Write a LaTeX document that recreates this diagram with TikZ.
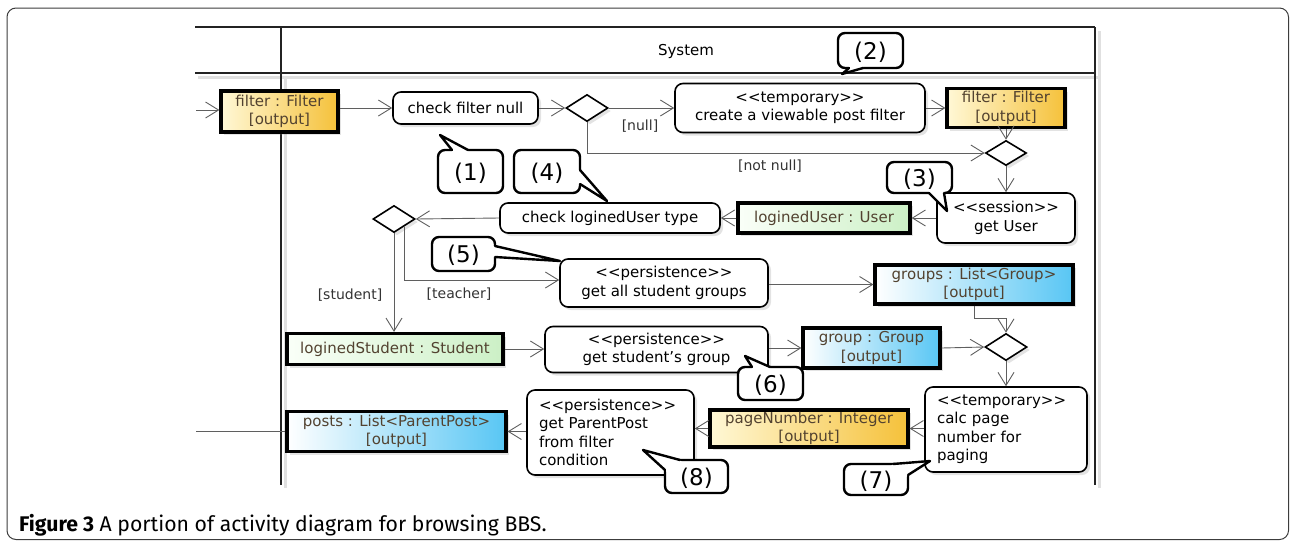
\documentclass[tikz,border=0pt]{standalone}
\usepackage{fontspec}
\setmainfont{DejaVu Sans}
\newfontfamily\capfont{Fira Sans}
\usetikzlibrary{shapes.geometric,arrows.meta,shadows,calc}

\definecolor{ylL}{RGB}{255,248,214}
\definecolor{ylR}{RGB}{245,193,58}
\definecolor{grL}{RGB}{250,255,248}
\definecolor{grR}{RGB}{204,240,198}
\definecolor{blL}{RGB}{255,255,255}
\definecolor{blR}{RGB}{88,198,244}
\definecolor{objtext}{RGB}{82,66,48}
\definecolor{flowgray}{RGB}{95,95,95}
\definecolor{lanegray}{RGB}{35,35,35}
\definecolor{framegray}{RGB}{60,60,60}

\newcommand\dfont{\fontsize{15pt}{18.5pt}\selectfont}
\newcommand\cfont{\fontsize{23pt}{26pt}\selectfont}
\newcommand\outp{\relax[output]}
\newcommand\tail[4]{%
  \fill[white] #1 -- #2 -- #3 -- ($#3+#4$) -- ($#1+#4$) -- cycle;
  \draw[tailline] #1 -- #2 -- #3;}

\begin{document}
\begin{tikzpicture}[x=1pt,y=-1pt,
  shadowed/.style={drop shadow={shadow xshift=3pt,shadow yshift=-3pt,opacity=0.22}},
  action/.style={rectangle, rounded corners=8pt, draw=black, line width=1.6pt,
    fill=white, align=center, font=\dfont, inner sep=0pt, shadowed},
  actionleft/.style={action, align=left, inner xsep=12pt},
  obj/.style={rectangle, draw=black, line width=3.2pt, align=center,
    font=\dfont, text=objtext, inner sep=0pt, shadowed},
  yobj/.style={obj, left color=ylL, right color=ylR},
  gobj/.style={obj, left color=grL, right color=grR},
  bobj/.style={obj, left color=blL, right color=blR},
  dec/.style={diamond, draw=black, line width=1.6pt, fill=white,
    minimum width=42pt, minimum height=27pt, inner sep=0pt, shadowed},
  flow/.style={draw=flowgray, line width=0.9pt,
    -{Straight Barb[length=13pt,width=16pt,line width=0.9pt]}},
  plain/.style={draw=flowgray, line width=0.9pt},
  guard/.style={font=\fontsize{14pt}{16pt}\selectfont, text=black!80},
  lane/.style={draw=lanegray, line width=2.2pt},
  laneshadow/.style={draw=black!12, line width=3pt},
  callout/.style={rectangle, rounded corners=7pt, draw=black, line width=2.4pt,
    fill=white, font=\cfont, inner sep=0pt, text height=19pt, text depth=2pt},
  tailline/.style={draw=black, line width=2.4pt, line join=round, line cap=round}
]
\useasboundingbox (0,0) rectangle (1290,542);

% outer frame
\draw[framegray, line width=1pt, rounded corners=9pt] (7,8) rectangle (1288.5,539.5);

% swimlanes
\draw[laneshadow] (198,77) -- (1098,77);
\draw[laneshadow] (285,77) -- (285,488);
\draw[laneshadow] (1099,31) -- (1099,488);
\draw[lane] (195,27) -- (1095,27);
\draw[lane] (195,73) -- (1095,73);
\draw[lane] (281,27) -- (281,485);
\draw[lane] (1095,27) -- (1095,485);
\node[font=\dfont] (syslabel) at (686,51) {System};

% free ends
\coordinate (in1) at (196,110);
\coordinate (out1) at (196,431);

% nodes
\node[yobj, minimum width=117pt, minimum height=41pt] (f1) at (279.5,111.5) {filter : Filter\\\outp};
\node[action, minimum width=145pt, minimum height=32pt] (chk1) at (465.5,108) {check filter null};
\node[dec] (d1) at (587,108) {};
\node[action, minimum width=250pt, minimum height=49pt] (create) at (800,108) {<{}<temporary>{}>\\create a viewable post filter};
\node[yobj, minimum width=118pt, minimum height=39pt] (f2) at (1006,108) {filter : Filter\\\outp};
\node[dec, minimum width=41pt, minimum height=25pt] (d2) at (1006,153) {};
\node[action, minimum width=138pt, minimum height=50pt] (getuser) at (1006,218) {<{}<session>{}>\\get User};
\node[gobj, minimum width=172pt, minimum height=30pt] (lu) at (824,218) {loginedUser : User};
\node[action, minimum width=220pt, minimum height=30pt] (chk2) at (610,218) {check loginedUser type};
\node[dec] (d3) at (394,219) {};
\node[action, minimum width=208pt, minimum height=48pt] (getall) at (664,283) {<{}<persistence>{}>\\get all student groups};
\node[bobj, minimum width=198pt, minimum height=39pt] (groups) at (974,284.5) {groups : List<Group>\\\outp};
\node[dec] (d4) at (1006,347) {};
\node[gobj, minimum width=216pt, minimum height=31pt] (ls) at (395,349) {loginedStudent : Student};
\node[action, minimum width=223pt, minimum height=46pt] (getgroup) at (656.5,349.5) {<{}<persistence>{}>\\get student's group};
\node[bobj, minimum width=137pt, minimum height=40pt] (group) at (871.5,348) {group : Group\\\outp};
\node[actionleft, text width=138pt, minimum height=85pt] (calc) at (1006,429.5) {<{}<temporary>{}>\\calc page\\number for\\paging};
\node[yobj, minimum width=198pt, minimum height=37pt] (pn) at (809,428.5) {pageNumber : Integer\\\outp};
\node[actionleft, text width=143pt, minimum height=85pt] (getpp) at (610.5,432.5) {<{}<persistence>{}>\\get ParentPost\\from filter\\condition};
\node[bobj, minimum width=219pt, minimum height=40pt] (posts) at (396.5,431.5) {posts : List<ParentPost>\\\outp};

% connectors
\draw[flow] (in1) -- (in1 -| f1.west);
\draw[flow] (f1.east |- chk1.west) -- (chk1.west);
\draw[flow] (chk1.east) -- (d1.west);
\draw[flow] (d1.east) -- (create.west);
\node[guard] (gnull) at (640,126) {[null]};
\draw[flow] (d1.south) |- (d2.west);
\node[guard] (gnotnull) at (770,166) {[not null]};
\draw[flow] (create.east) -- (f2.west);
\draw[flow] (f2.south) -- (d2.north);
\draw[flow] (d2.south) -- (getuser.north -| d2.south);
\draw[flow] (getuser.west) -- (lu.east);
\draw[flow] (lu.west) -- (chk2.east);
\draw[flow] (chk2.west) -- (d3.east);
\draw[flow] (d3.south) -- (ls.north -| d3.south);
\node[guard] (gstudent) at (350,295) {[student]};
\draw[flow] (d3.south east) |- ($(getall.west)+(0,-3)$);
\node[guard] (gteacher) at (459,294) {[teacher]};
\draw[flow] (getall.east |- groups.west) -- (groups.west);
\draw[flow] (groups.south) -- ++(0,13) -| (d4.north);
\draw[flow] (ls.east) -- (ls.east -| getgroup.west);
\draw[flow] (getgroup.east |- group.west) -- (group.west);
\draw[flow] (group.east) -- (d4.west);
\draw[flow] (d4.south) -- (calc.north -| d4.south);
\draw[flow] (calc.west |- pn.east) -- (pn.east);
\draw[flow] (pn.west) -- (pn.west -| getpp.east);
\draw[flow] (getpp.west |- posts.east) -- (posts.east);
\draw[plain] (posts.west) -- (posts.west -| out1);

% callouts
\node[callout, minimum width=65pt, minimum height=43pt] (c1) at (470.5,171.5) {(1)};
\tail{(452,150)}{(440,135)}{(468,150)}{(0,4)}
\node[callout, minimum width=66pt, minimum height=43pt] (c4) at (547,171.5) {(4)};
\tail{(580,170)}{(607,201)}{(580,184)}{(-4,0)}
\node[callout, minimum width=65pt, minimum height=35pt] (c2) at (870.5,50.5) {(2)};
\tail{(849,68)}{(842,74)}{(863,68)}{(0,-4)}
\node[callout, minimum width=65pt, minimum height=31pt] (c3) at (919.5,177.5) {(3)};
\tail{(929,193)}{(947,211)}{(944,193)}{(0,-4)}
\node[callout, minimum width=63pt, minimum height=34pt] (c5) at (463.5,254) {(5)};
\tail{(495,246)}{(560,261)}{(495,257)}{(-4,0)}
\node[callout, minimum width=65pt, minimum height=33pt] (c6) at (770.5,383.5) {(6)};
\tail{(752,367)}{(745,356)}{(770,367)}{(0,4)}
\node[callout, minimum width=64pt, minimum height=31pt] (c7) at (876,479.5) {(7)};
\tail{(893,464)}{(930,461)}{(908,475)}{(-4,4)}
\node[callout, minimum width=63pt, minimum height=33pt] (c8) at (696.5,476.5) {(8)};
\tail{(665,470)}{(643,450)}{(680,460)}{(4,4)}

% caption
\node[anchor=base west, font=\capfont\fontsize{21.2pt}{24pt}\selectfont, inner sep=0pt] (caption) at (19,531)
  {\textbf{Figure 3} A portion of activity diagram for browsing BBS.};
\end{tikzpicture}
\end{document}
